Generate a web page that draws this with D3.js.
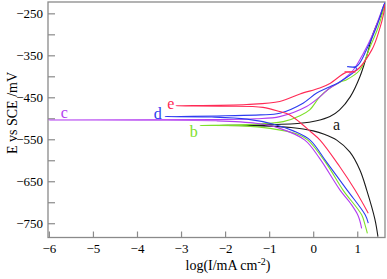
<!DOCTYPE html>
<html>
<head>
<meta charset="utf-8">
<script src="https://cdn.jsdelivr.net/npm/d3@7"></script>
<style>
  body { margin: 0; background: #fff; }
  svg { display: block; }
  svg text { font-family: "Liberation Serif", "DejaVu Serif", "Times New Roman", serif; }
</style>
</head>
<body>
<svg id="chart" width="387" height="279"></svg>
<script>
// Tafel curves, points are [log(I/mA cm-2), E vs SCE /mV]
// each curve runs from the cathodic end, in to Ecorr, then out along the anodic branch
const curveA = [
  [1.47, -782], [1.40, -740], [1.215, -671], [1.06, -623], [0.83, -580], [0.534, -552],
  [0.25, -538], [0.0, -530], [-0.5, -522], [-1.2, -518], [-2.2, -517],
  [-1.2, -516], [-0.3, -512], [0.08, -506], [0.38, -496], [0.6, -480], [0.84, -449],
  [1.06, -401], [1.21, -353], [1.36, -298], [1.55, -250], [1.62, -228]
];
const curveB = [
  [1.23, -774], [1.18, -755], [1.10, -730], [0.677, -671], [0.3, -608], [-0.12, -552],
  [-0.38, -537], [-0.98, -524], [-1.6, -518], [-2.57, -517],
  [-1.5, -515], [-0.68, -508], [-0.3, -494], [-0.08, -480], [0.15, -449], [0.38, -428],
  [0.61, -414], [0.76, -408], [1.06, -385], [1.29, -330], [1.48, -282], [1.62, -230]
];
const curveC = [
  [1.10, -762], [1.02, -732], [0.85, -703], [0.61, -671], [0.15, -596], [-0.19, -552],
  [-0.76, -524], [-1.3, -512], [-2.2, -506], [-6.0, -504],
  [-2.2, -503], [-1.3, -501], [-0.76, -496], [-0.15, -472], [0.15, -449], [0.38, -428],
  [0.6, -414], [0.91, -385], [1.14, -345], [1.36, -298], [1.59, -234], [1.63, -225]
];
const curveD = [
  [1.25, -750], [1.18, -730], [0.77, -671], [0.3, -604], [-0.07, -552], [-0.45, -530],
  [-0.9, -514], [-1.5, -502], [-2.3, -497], [-3.37, -496],
  [-2.0, -494], [-1.2, -492], [-0.76, -488], [-0.23, -464], [0.08, -440], [0.38, -425],
  [0.61, -413], [0.99, -381], [0.78, -377], [0.99, -376], [1.21, -337], [1.44, -282],
  [1.59, -234], [1.63, -225]
];
const curveE = [
  [1.25, -726], [0.95, -671], [0.6, -615], [0.155, -552], [-0.08, -530], [-0.3, -510],
  [-0.53, -492], [-0.76, -484], [-1.14, -474], [-2.0, -471], [-3.12, -470],
  [-1.51, -467], [-0.76, -460], [-0.3, -442], [0.15, -428], [0.38, -417], [0.76, -390],
  [0.95, -390], [0.72, -389], [0.95, -388], [1.33, -337], [1.5, -290], [1.6, -250],
  [1.63, -228]
];

const seriesNames = ['a', 'b', 'c', 'd', 'e'];
const seriesData = [curveA, curveB, curveC, curveD, curveE];
// label anchor points (baseline centre) in data units
const labelPos = [[0.53, -528], [-2.71, -545], [-5.65, -499], [-3.53, -502], [-3.23, -478]];

const xTicks = [-6, -5, -4, -3, -2, -1, 0, 1];
const yTicks = [-250, -350, -450, -550, -650, -750];
const yMinor = [-300, -400, -500, -600, -700];

const colors = { a: '#1a1a1a', b: '#7ee02a', c: '#b23cf0', d: '#2d3cf0', e: '#ff2a55' };
const serif = '"Liberation Serif", "DejaVu Serif", serif';

const svg = d3.select('#chart');
const mLeft = 48, mRight = 385, mTop = 2, mBottom = 237.5;

const x = d3.scaleLinear().domain([-6.02, 1.63]).range([mLeft, mRight]);
const y = d3.scaleLinear().domain([-784, -223]).range([mBottom, mTop]);

// frame
svg.append('rect')
  .attr('x', mLeft).attr('y', mTop)
  .attr('width', mRight - mLeft).attr('height', mBottom - mTop)
  .attr('fill', 'none').attr('stroke', '#8a8a8a').attr('stroke-width', 1.3);

// axes with inward ticks
const xAxis = d3.axisBottom(x).tickValues(xTicks).tickSize(-6).tickPadding(6)
  .tickFormat(d3.format('d'));
const gx = svg.append('g').attr('transform', `translate(0,${mBottom})`).call(xAxis);
gx.select('.domain').remove();

const yAxis = d3.axisLeft(y).tickValues(yTicks).tickSize(-7).tickPadding(5)
  .tickFormat(d3.format('d'));
const gy = svg.append('g').attr('transform', `translate(${mLeft},0)`).call(yAxis);
gy.select('.domain').remove();

svg.append('g').attr('transform', `translate(${mLeft},0)`)
  .call(d3.axisLeft(y).tickValues(yMinor).tickSize(-7).tickFormat(''))
  .select('.domain').remove();

svg.selectAll('g').attr('font-family', null);
svg.selectAll('.tick line').attr('stroke', '#8a8a8a').attr('stroke-width', 1.2);
svg.selectAll('.tick text')
  .style('font-family', serif)
  .attr('font-size', 13).attr('fill', '#000');

// curves
const line = d3.line()
  .x(d => x(d[0]))
  .y(d => y(d[1]))
  .curve(d3.curveCatmullRom.alpha(0.5));

const plot = svg.append('g');
plot.append('clipPath').attr('id', 'clip')
  .append('rect').attr('x', mLeft).attr('y', mTop)
  .attr('width', mRight - mLeft).attr('height', mBottom - mTop);

plot.selectAll('path.curve')
  .data(seriesData)
  .enter().append('path')
  .attr('class', 'curve')
  .attr('clip-path', 'url(#clip)')
  .attr('d', line)
  .attr('fill', 'none')
  .attr('stroke', (d, i) => colors[seriesNames[i]])
  .attr('stroke-width', 1.1);

// curve labels
svg.selectAll('text.lbl')
  .data(seriesNames)
  .enter().append('text')
  .attr('class', 'lbl')
  .attr('x', (d, i) => x(labelPos[i][0]))
  .attr('y', (d, i) => y(labelPos[i][1]))
  .attr('text-anchor', 'middle')
  .attr('font-size', 16)
  .attr('fill', d => colors[d])
  .text(d => d);

// axis titles
const xt = svg.append('text')
  .attr('x', 228).attr('y', 270)
  .attr('text-anchor', 'middle')
  .attr('font-size', 14)
  .attr('fill', '#000');
xt.append('tspan').text('log(I/mA cm');
xt.append('tspan').attr('dy', -5).attr('font-size', 10).text('-2');
xt.append('tspan').attr('dy', 5).text(')');

svg.append('text')
  .attr('transform', 'translate(17,113) rotate(-90)')
  .attr('text-anchor', 'middle')
  .attr('font-size', 14)
  .attr('fill', '#000')
  .text('E vs SCE /mV');
</script>
</body>
</html>
